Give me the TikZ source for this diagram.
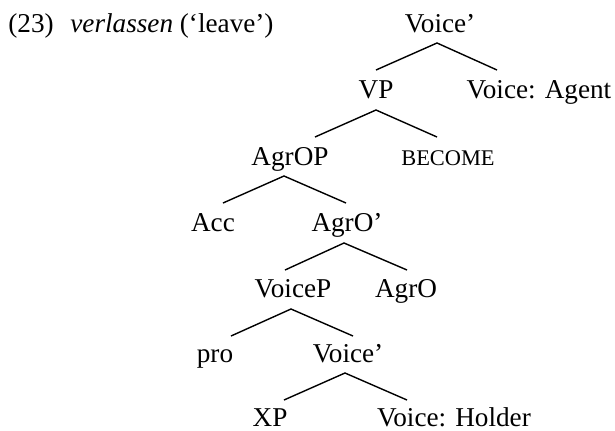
\documentclass[tikz,border=0pt]{standalone}
\usepackage{fontspec}
\setmainfont{Liberation Serif}
\begin{document}
\begin{tikzpicture}[x=0.5pt,y=-0.5pt,
  lab/.style={anchor=base,inner sep=0pt,font=\fontsize{13.6}{16}\selectfont},
  small/.style={anchor=base,inner sep=0pt,font=\fontsize{11.2}{13}\selectfont},
  branch/.style={line width=0.7pt}]
\useasboundingbox (0,0) rectangle (615,430);
% heading
\node[lab,anchor=base west] (num) at (8,32) {(23)};
\node[lab,anchor=base west] (word) at (70,32) {\textit{verlassen} (‘leave’)};
% tree nodes
\node[lab] (voicebar) at (440,32) {Voice’};
\node[lab] (vp) at (376,98) {VP};
\node[lab] (agent) at (539,98) {Voice: Agent};
\node[lab] (agrop) at (290,165) {AgrOP};
\node[small] (become) at (448,165) {BECOME};
\node[lab] (acc) at (213,231) {Acc};
\node[lab] (agrobar) at (347,231) {AgrO’};
\node[lab] (voicep) at (293,297) {VoiceP};
\node[lab] (agro) at (406,297) {AgrO};
\node[lab] (pro) at (215,362) {pro};
\node[lab] (voicebarb) at (348,362) {Voice’};
\node[lab] (xp) at (270,426) {XP};
\node[lab] (holder) at (454,426) {Voice: Holder};
% branch coordinates
\coordinate (a1) at (437,43); \coordinate (l1) at (376,70); \coordinate (r1) at (497,70);
\coordinate (a2) at (376,110); \coordinate (l2) at (315,137); \coordinate (r2) at (437,137);
\coordinate (a3) at (284,176); \coordinate (l3) at (223,203); \coordinate (r3) at (346,203);
\coordinate (a4) at (344,243); \coordinate (l4) at (285,270); \coordinate (r4) at (407,270);
\coordinate (a5) at (291,309); \coordinate (l5) at (231,336); \coordinate (r5) at (353,336);
\coordinate (a6) at (345,373); \coordinate (l6) at (284,400); \coordinate (r6) at (407,400);
\foreach \i in {1,...,6}{
  \draw[branch] (l\i) -- (a\i) -- (r\i);
}
\end{tikzpicture}
\end{document}
